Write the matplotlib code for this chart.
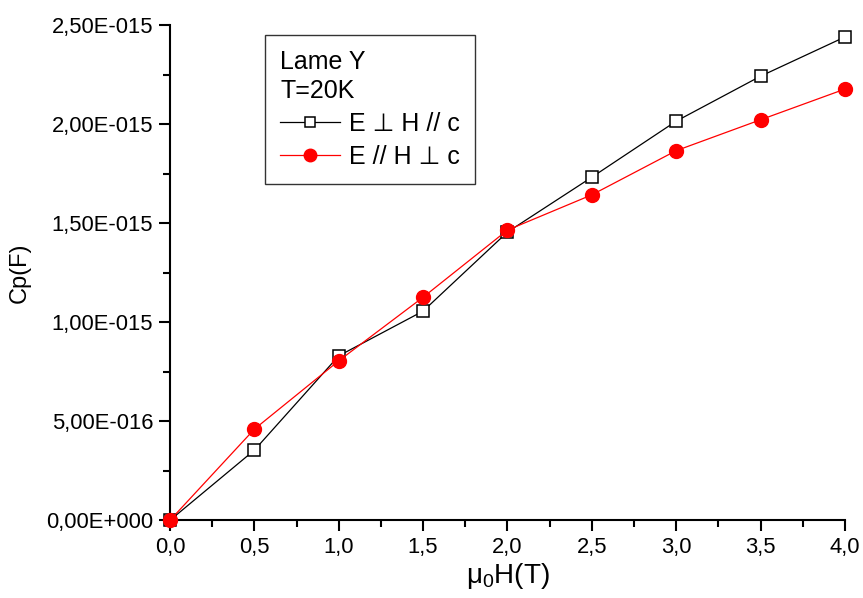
import math
import matplotlib
matplotlib.use('Agg')
import matplotlib.pyplot as plt
from matplotlib.ticker import FuncFormatter

plt.rcParams['font.family'] = ['Liberation Sans', 'DejaVu Sans']
plt.rcParams['mathtext.fontset'] = 'custom'
plt.rcParams['mathtext.rm'] = 'Liberation Sans'

field = [0.0, 0.5, 1.0, 1.5, 2.0, 2.5, 3.0, 3.5, 4.0]
cp_perp = [0.0, 3.54e-16, 8.30e-16, 1.056e-15, 1.455e-15, 1.732e-15, 2.015e-15, 2.242e-15, 2.44e-15]
cp_par = [0.0, 4.60e-16, 8.05e-16, 1.126e-15, 1.465e-15, 1.643e-15, 1.866e-15, 2.022e-15, 2.177e-15]
label_perp = 'E \u22a5 H // c'
label_par = 'E // H \u22a5 c'
xticks = [0.0, 0.5, 1.0, 1.5, 2.0, 2.5, 3.0, 3.5, 4.0]
xminor = [0.25, 0.75, 1.25, 1.75, 2.25, 2.75, 3.25, 3.75]
yticks = [0.0, 5e-16, 1e-15, 1.5e-15, 2e-15, 2.5e-15]
yminor = [2.5e-16, 7.5e-16, 1.25e-15, 1.75e-15, 2.25e-15]


def sci_comma(v, pos):
    if v == 0:
        return '0,00E+000'
    e = int(math.floor(math.log10(abs(v)) + 1e-9))
    m = v / 10 ** e
    sign = '-' if e < 0 else '+'
    return f'{m:.2f}'.replace('.', ',') + f'E{sign}{abs(e):03d}'


fig = plt.figure(figsize=(8.63, 5.98), dpi=100)
ax = fig.add_axes([0.197, 0.130, 0.782, 0.828])

ax.plot(field, cp_perp, color='black', lw=0.9, marker='s', ms=8,
        mfc='white', mec='black', mew=1.1, label=label_perp, clip_on=False, zorder=3)
ax.plot(field, cp_par, color='red', lw=0.9, marker='o', ms=10,
        mfc='red', mec='red', label=label_par, clip_on=False, zorder=4)

ax.set_xlim(0, 4)
ax.set_ylim(0, 2.5e-15)
ax.set_xticks(xticks)
ax.set_xticks(xminor, minor=True)
ax.set_yticks(yticks)
ax.set_yticks(yminor, minor=True)
ax.xaxis.set_major_formatter(FuncFormatter(lambda v, p: f'{v:.1f}'.replace('.', ',')))
ax.yaxis.set_major_formatter(FuncFormatter(sci_comma))

for s in ['top', 'right']:
    ax.spines[s].set_visible(False)
for s in ['left', 'bottom']:
    ax.spines[s].set_linewidth(1.5)

ax.tick_params(which='major', direction='out', length=8, width=1.5, labelsize=15.8, pad=4)
ax.tick_params(which='minor', direction='out', length=5, width=1.5)

ax.set_xlabel('$\\mathregular{\u03bc_0H(T)}$', fontsize=20, labelpad=2)
ax.set_ylabel('Cp(F)', fontsize=17, labelpad=11)

leg = ax.legend(title='Lame Y\nT=20K', loc='upper left', bbox_to_anchor=(0.141, 0.98),
                fontsize=18, title_fontsize=18, frameon=True, fancybox=False,
                edgecolor='black', handlelength=2.4, handletextpad=0.36,
                borderpad=0.6, labelspacing=0.36, borderaxespad=0, alignment='left',
                markerscale=0.9)
leg.get_frame().set_linewidth(1.0)
leg.get_title().set_linespacing(1.25)

fig.savefig('out.png', dpi=100)
